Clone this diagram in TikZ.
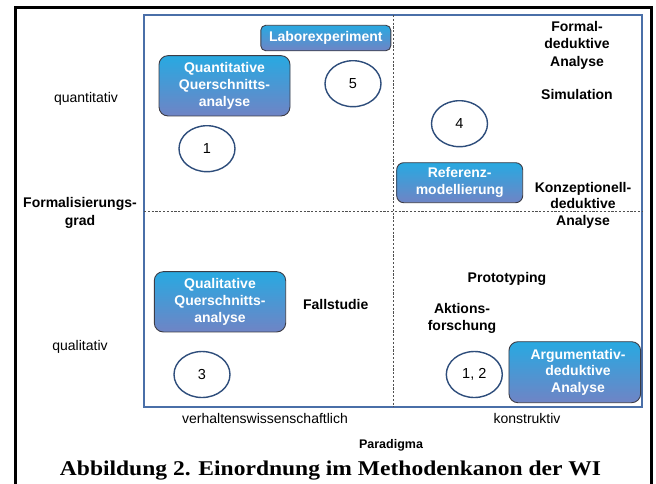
\documentclass[tikz,border=0pt]{standalone}
\usepackage{fontspec}
\setmainfont{Liberation Sans}
\newfontfamily\capfont{Liberation Serif}
\usetikzlibrary{shapes.geometric}
\definecolor{frameblue}{HTML}{4A6FA8}
\definecolor{boxtop}{HTML}{28A9E1}
\definecolor{boxbot}{HTML}{6F84C5}
\definecolor{boxline}{HTML}{3C3C46}
\definecolor{circline}{HTML}{2E4D7B}
\definecolor{dashgray}{HTML}{505050}
\tikzset{
  mbox/.style={draw=boxline, line width=0.9pt, top color=boxtop, bottom color=boxbot,
    rounded corners=9pt, inner sep=0pt, align=center, text=white,
    font=\fontsize{14}{16.7}\selectfont\bfseries},
  numcirc/.style={ellipse, draw=circline, line width=1.4pt, fill=white,
    minimum width=56pt, minimum height=46pt, inner sep=0pt,
    font=\fontsize{14.5}{17}\selectfont},
  blabel/.style={align=center, inner sep=0pt, font=\fontsize{14}{17}\selectfont\bfseries},
  rlabel/.style={align=center, inner sep=0pt, font=\fontsize{14}{17}\selectfont},
  quaddash/.style={dashgray, line width=0.8pt, dash pattern=on 2.2pt off 1.6pt}
}
\begin{document}
\begin{tikzpicture}[x=1pt,y=-1pt]
\clip (0,0) rectangle (656,483);
\fill[white] (0,0) rectangle (656,483);
% outer black frame
\draw[line width=3pt] (15.3,530) -- (15.3,7) -- (651,7) -- (651,530);
% blue frame and quadrant lines
\draw[frameblue, line width=1.5pt] (144,15) rectangle (642,407);
\draw[quaddash] (393,15) -- (393,407);
\draw[quaddash] (144,211.5) -- (642,211.5);
% boxes
\node[mbox, minimum width=130pt, minimum height=25.5pt, rounded corners=5pt] (labor) at (325.8,38) {Laborexperiment};
\node[mbox, minimum width=131pt, minimum height=60.3pt] (quant) at (224.5,85.8) {Quantitative\\Querschnitts-\\analyse};
\node[mbox, minimum width=126pt, minimum height=40pt, rounded corners=7pt] (ref) at (459.7,182.7) {Referenz-\\modellierung};
\node[mbox, minimum width=131.4pt, minimum height=60.3pt] (qual) at (220,301.8) {Qualitative\\Querschnitts-\\analyse};
\node[mbox, minimum width=131.7pt, minimum height=61pt] (arg) at (574.8,372.2) {};
\node[blabel, text=white, font=\fontsize{14}{16.7}\selectfont\bfseries] (argt) at (578,372.3) {Argumentativ-\\deduktive\\Analyse};
% circles
\node[numcirc] (c5) at (353,83.7) {5};
\node[numcirc] (c1) at (207,148.7) {1};
\node[numcirc] (c4) at (459.5,123.7) {4};
\node[numcirc] (c3) at (202,374.5) {3};
\node[numcirc] (c12) at (474.3,374.5) {1, 2};
% method labels
\node[blabel, font=\fontsize{14}{17.5}\selectfont\bfseries] (formal) at (577,44.9) {Formal-\\deduktive\\Analyse};
\node[blabel] (sim) at (577,94) {Simulation};
\node[blabel, font=\fontsize{14}{16.7}\selectfont\bfseries] (konz) at (583,205.2) {Konzeptionell-\\deduktive\\Analyse};
\node[blabel] (fall) at (335.7,304.3) {Fallstudie};
\node[blabel] (proto) at (507,279.3) {Prototyping};
\node[blabel, font=\fontsize{14}{16.7}\selectfont\bfseries] (aktion) at (462,318.3) {Aktions-\\forschung};
% axis labels
\node[rlabel] (quantl) at (86,99.3) {quantitativ};
\node[blabel, font=\fontsize{14}{18}\selectfont\bfseries] (formgrad) at (80,212.5) {Formalisierungs-\\grad};
\node[rlabel] (quall) at (80,346.7) {qualitativ};
\node[rlabel] (verh) at (265,418.3) {verhaltenswissenschaftlich};
\node[rlabel] (konstr) at (527,418.3) {konstruktiv};
\node[blabel, font=\fontsize{12.5}{15}\selectfont\bfseries] (para) at (391,445) {Paradigma};
% caption
\node[inner sep=0pt, anchor=base] (cap) at (330.5,475) {\scalebox{1.12}[1]{\capfont\bfseries\fontsize{21}{24}\selectfont Abbildung 2. Einordnung im Methodenkanon der WI}};
\end{tikzpicture}
\end{document}
